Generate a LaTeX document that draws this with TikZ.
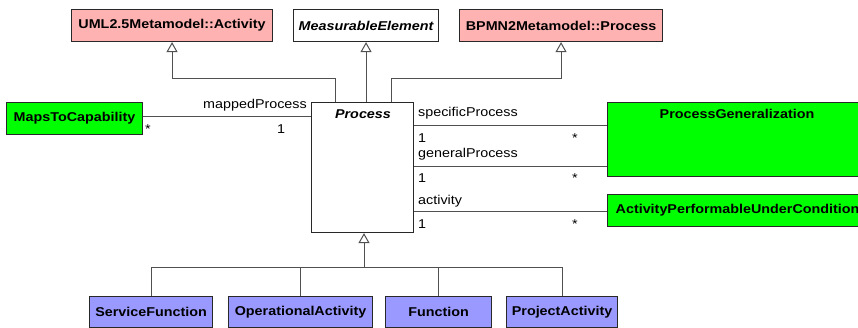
\documentclass[tikz,border=0pt]{standalone}
\usepackage{fontspec}
\setmainfont{Liberation Sans}[FakeStretch=1.12]
\usetikzlibrary{arrows.meta}
\definecolor{pinkc}{RGB}{255,178,178}
\definecolor{greenc}{RGB}{0,255,0}
\definecolor{bluec}{RGB}{153,153,255}
\definecolor{boxc}{RGB}{40,40,40}
\definecolor{linec}{RGB}{80,80,80}
\begin{document}
\begin{tikzpicture}[x=1pt,y=-1pt,
  font=\fontsize{12.8}{15}\selectfont,
  box/.style={draw=boxc, line width=1.1pt, inner sep=0pt, anchor=north west, font=\fontsize{12.8}{15}\selectfont\bfseries},
  pinkbox/.style={box, fill=pinkc},
  greenbox/.style={box, fill=greenc},
  bluebox/.style={box, fill=bluec},
  conn/.style={draw=linec, line width=1pt},
  inh/.style={conn, -{Triangle[open, width=11pt, length=10pt, fill=white]}},
  lbl/.style={inner sep=0pt, anchor=base west},
  lblr/.style={inner sep=0pt, anchor=base east}]
\useasboundingbox (0,0) rectangle (858,328);
\clip (0,0) rectangle (858,328);
% top boxes
\node[pinkbox, minimum width=201, minimum height=32] (uml) at (71,9) {UML2.5Metamodel::Activity};
\node[box, fill=white, minimum width=145, minimum height=32, font=\fontsize{12.8}{15}\selectfont\bfseries\itshape] (meas) at (293,9) {MeasurableElement};
\node[pinkbox, minimum width=203, minimum height=32] (bpmn) at (459,9) {BPMN2Metamodel::Process};
% process
\node[box, fill=white, minimum width=102, minimum height=130] (proc) at (311,102) {};
\node[inner sep=0pt, anchor=base, font=\fontsize{12.8}{15}\selectfont\bfseries\itshape] (proct) at (363,119) {Process};
% left
\node[greenbox, minimum width=136, minimum height=32] (maps) at (6,102) {MapsToCapability};
% right
\node[greenbox, minimum width=260, minimum height=74] (pg) at (607,102) {};
\node[inner sep=0pt, anchor=base, font=\fontsize{12.8}{15}\selectfont\bfseries] (pgt) at (737,119) {ProcessGeneralization};
\node[greenbox, minimum width=260, minimum height=32] (apuc) at (607,194) {ActivityPerformableUnderCondition};
% bottom
\node[bluebox, minimum width=123, minimum height=31] (sf) at (89,296) {ServiceFunction};
\node[bluebox, minimum width=144, minimum height=31] (oa) at (228,296) {OperationalActivity};
\node[bluebox, minimum width=106, minimum height=31] (fn) at (385,296) {Function};
\node[bluebox, minimum width=111, minimum height=31] (pa) at (506,296) {ProjectActivity};
% generalizations up
\coordinate (pu1) at (335,102);
\coordinate (pu3) at (391,102);
\draw[inh] (pu1) -- ++(0,-23) -| (uml.south);
\draw[inh] (proc.north -| meas.south) -- (meas.south);
\draw[inh] (pu3) -- ++(0,-23) -| (bpmn.south);
% generalizations down
\coordinate (j) at (364,268);
\draw[conn] (sf.north) |- (j);
\draw[conn] (oa.north) |- (j);
\draw[conn] (fn.north) |- (j);
\draw[conn] (pa.north) |- (j);
\draw[inh] (j) -- (proc.south -| j);
% associations
\draw[conn] (maps.east |- 0,117) -- (proc.west |- 0,117);
\draw[conn] (proc.east |- 0,126) -- (pg.west |- 0,126);
\draw[conn] (proc.east |- 0,167) -- (pg.west |- 0,167);
\draw[conn] (proc.east |- 0,212) -- (apuc.west |- 0,212);
% association labels
\node[lblr] (l1) at (307,109) {mappedProcess};
\node[lbl] (l1a) at (145,134) {*};
\node[lbl] (l1b) at (277,134) {1};
\node[lbl] (l2) at (418,117) {specificProcess};
\node[lbl] (l2a) at (418,143) {1};
\node[lbl] (l2b) at (572,143) {*};
\node[lbl] (l3) at (418,158) {generalProcess};
\node[lbl] (l3a) at (418,183) {1};
\node[lbl] (l3b) at (572,183) {*};
\node[lbl] (l4) at (418,205) {activity};
\node[lbl] (l4a) at (418,229) {1};
\node[lbl] (l4b) at (572,229) {*};
\end{tikzpicture}
\end{document}
